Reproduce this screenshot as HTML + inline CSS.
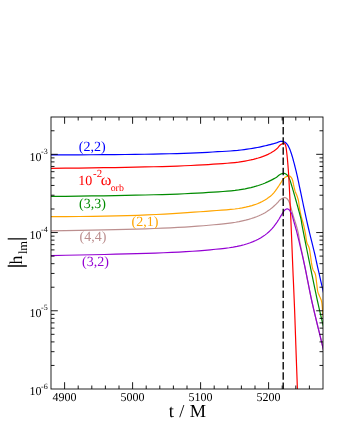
<!DOCTYPE html>
<html><head><meta charset="utf-8"><title>plot</title>
<style>html,body{margin:0;padding:0;background:#fff}body{width:340px;height:440px;position:relative;overflow:hidden;font-family:"Liberation Serif",serif}.tx,.tx text,.tx tspan{font-family:"Liberation Serif",serif;text-rendering:geometricPrecision}</style></head>
<body>
<svg width="340" height="440" viewBox="0 0 340 440" style="position:absolute;left:0;top:0;will-change:transform">
<defs><clipPath id="c"><rect x="51.0" y="117.0" width="272.0" height="272.0"/></clipPath></defs>
<g clip-path="url(#c)" fill="none" stroke-width="1.2" stroke-linejoin="round">
<path d="M51.00,154.78 L65.31,154.79 L78.78,154.78 L91.46,154.75 L103.40,154.69 L114.63,154.62 L125.21,154.52 L135.16,154.41 L144.53,154.27 L153.35,154.12 L161.65,153.95 L169.47,153.76 L176.82,153.56 L183.74,153.33 L190.26,153.09 L196.39,152.84 L202.17,152.57 L207.60,152.28 L212.72,151.98 L217.53,151.72 L222.06,151.49 L226.33,151.24 L230.34,150.98 L234.12,150.69 L237.68,150.39 L241.03,150.01 L244.18,149.61 L247.15,149.20 L249.94,148.78 L252.57,148.35 L255.04,147.92 L257.37,147.48 L259.57,147.05 L261.63,146.62 L263.57,146.19 L265.40,145.77 L267.12,145.35 L268.74,144.95 L270.26,144.55 L271.70,144.17 L273.05,143.81 L274.32,143.47 L274.36,143.46 L274.45,143.43 L274.60,143.40 L274.77,143.35 L274.97,143.30 L275.17,143.24 L275.35,143.19 L275.52,143.15 L275.67,143.10 L275.82,143.06 L275.98,143.01 L276.13,142.96 L276.28,142.92 L276.42,142.88 L276.54,142.84 L276.64,142.81 L276.69,142.79 L276.72,142.78 L276.75,142.77 L276.77,142.77 L276.80,142.76 L276.83,142.75 L276.87,142.73 L276.92,142.72 L277.14,142.63 L277.45,142.49 L277.83,142.31 L278.26,142.12 L278.70,141.93 L279.16,141.76 L279.60,141.61 L280.00,141.50 L280.34,141.43 L280.69,141.38 L281.03,141.35 L281.37,141.32 L281.71,141.32 L282.05,141.33 L282.38,141.36 L282.70,141.40 L283.00,141.46 L283.30,141.53 L283.59,141.62 L283.88,141.73 L284.17,141.85 L284.45,141.98 L284.73,142.13 L285.00,142.30 L285.31,142.51 L285.61,142.74 L285.91,142.99 L286.20,143.25 L286.48,143.54 L286.76,143.84 L287.04,144.16 L287.30,144.50 L287.61,144.93 L287.90,145.39 L288.18,145.87 L288.46,146.38 L288.72,146.91 L288.98,147.46 L289.24,148.03 L289.50,148.60 L289.81,149.32 L290.11,150.07 L290.40,150.85 L290.69,151.65 L290.97,152.47 L291.25,153.30 L291.53,154.15 L291.80,155.00 L292.10,155.96 L292.39,156.94 L292.68,157.94 L292.97,158.96 L293.25,159.99 L293.53,161.04 L293.81,162.11 L294.10,163.20 L294.43,164.47 L294.77,165.76 L295.10,167.08 L295.44,168.42 L295.78,169.79 L296.12,171.19 L296.46,172.63 L296.80,174.10 L297.21,175.90 L297.61,177.72 L298.00,179.57 L298.41,181.47 L298.82,183.45 L299.25,185.52 L299.71,187.70 L300.20,190.00 L300.99,193.74 L301.86,197.86 L302.78,202.25 L303.74,206.82 L304.73,211.48 L305.73,216.13 L306.72,220.67 L307.70,225.00 L308.64,229.01 L309.63,233.16 L310.66,237.34 L311.68,241.46 L312.66,245.38 L313.56,249.02 L314.36,252.27 L315.00,255.00 L315.24,256.07 L315.44,256.98 L315.61,257.77 L315.76,258.51 L315.91,259.25 L316.08,260.03 L316.27,260.93 L316.50,262.00 L317.12,264.78 L317.91,268.27 L318.80,272.22 L319.75,276.39 L320.69,280.51 L321.57,284.36 L322.32,287.67 L322.90,290.20 L323.10,291.06 L323.29,291.91 L323.48,292.71 L323.64,293.45 L323.79,294.08 L323.90,294.57 L323.97,294.89 L324.00,295.00" stroke="#0000ff"/>
<path d="M51.00,216.57 L65.72,216.57 L79.56,216.51 L92.59,216.37 L104.85,216.18 L116.38,215.93 L127.23,215.63 L137.44,215.28 L147.05,214.90 L156.09,214.49 L164.59,214.06 L172.59,213.61 L180.12,213.15 L187.20,212.68 L193.86,212.22 L200.13,211.76 L206.03,211.32 L211.58,210.88 L216.80,210.48 L221.72,210.16 L226.34,209.81 L230.69,209.42 L234.78,209.00 L238.63,208.50 L242.25,207.88 L245.66,207.19 L248.87,206.43 L251.89,205.61 L254.73,204.69 L257.40,203.69 L259.91,202.60 L262.27,201.44 L264.50,200.21 L266.59,198.92 L268.56,197.58 L270.41,196.19 L272.16,194.67 L273.80,192.87 L275.34,190.91 L276.79,188.88 L278.16,186.85 L278.20,186.79 L278.30,186.63 L278.46,186.40 L278.64,186.11 L278.85,185.79 L279.07,185.47 L279.27,185.16 L279.45,184.89 L279.60,184.64 L279.77,184.39 L279.94,184.13 L280.10,183.88 L280.26,183.63 L280.41,183.41 L280.54,183.20 L280.66,183.03 L280.70,182.97 L280.74,182.91 L280.77,182.86 L280.80,182.82 L280.83,182.77 L280.86,182.72 L280.90,182.66 L280.95,182.59 L281.10,182.34 L281.30,182.02 L281.52,181.64 L281.77,181.23 L282.04,180.80 L282.32,180.37 L282.61,179.97 L282.90,179.60 L283.20,179.25 L283.52,178.90 L283.85,178.56 L284.20,178.22 L284.55,177.90 L284.90,177.60 L285.25,177.34 L285.60,177.10 L285.89,176.93 L286.17,176.78 L286.47,176.65 L286.76,176.53 L287.05,176.43 L287.34,176.34 L287.62,176.27 L287.90,176.20 L288.14,176.15 L288.37,176.10 L288.60,176.06 L288.84,176.03 L289.06,176.02 L289.28,176.02 L289.50,176.05 L289.70,176.10 L289.90,176.18 L290.09,176.29 L290.27,176.42 L290.44,176.57 L290.61,176.73 L290.78,176.91 L290.94,177.10 L291.10,177.30 L291.30,177.57 L291.49,177.85 L291.68,178.16 L291.85,178.49 L292.02,178.84 L292.19,179.21 L292.35,179.59 L292.50,180.00 L292.70,180.62 L292.88,181.31 L293.04,182.04 L293.19,182.81 L293.34,183.60 L293.48,184.38 L293.64,185.16 L293.80,185.90 L293.96,186.60 L294.13,187.31 L294.29,188.01 L294.46,188.70 L294.63,189.39 L294.81,190.08 L295.00,190.75 L295.20,191.40 L295.40,191.99 L295.63,192.56 L295.86,193.12 L296.09,193.68 L296.33,194.23 L296.57,194.78 L296.79,195.34 L297.00,195.90 L297.20,196.46 L297.39,197.02 L297.58,197.58 L297.76,198.14 L297.93,198.71 L298.10,199.29 L298.26,199.89 L298.40,200.50 L298.55,201.23 L298.67,201.97 L298.77,202.73 L298.86,203.51 L298.96,204.31 L299.06,205.12 L299.17,205.95 L299.30,206.80 L299.48,207.86 L299.68,208.96 L299.89,210.10 L300.11,211.25 L300.34,212.42 L300.58,213.59 L300.84,214.76 L301.10,215.90 L301.38,217.04 L301.69,218.18 L302.01,219.32 L302.34,220.45 L302.68,221.59 L303.00,222.72 L303.31,223.86 L303.60,225.00 L303.87,226.14 L304.13,227.28 L304.38,228.43 L304.62,229.57 L304.85,230.72 L305.08,231.85 L305.29,232.98 L305.50,234.10 L305.67,235.16 L305.82,236.22 L305.95,237.29 L306.08,238.34 L306.22,239.38 L306.38,240.39 L306.57,241.37 L306.80,242.30 L307.04,243.03 L307.32,243.71 L307.63,244.37 L307.95,245.00 L308.26,245.64 L308.57,246.29 L308.85,246.97 L309.10,247.70 L309.35,248.64 L309.56,249.63 L309.75,250.66 L309.91,251.72 L310.06,252.78 L310.21,253.85 L310.35,254.89 L310.50,255.90 L310.64,256.81 L310.76,257.72 L310.87,258.62 L310.99,259.51 L311.10,260.39 L311.22,261.27 L311.35,262.14 L311.50,263.00 L311.65,263.82 L311.79,264.64 L311.94,265.45 L312.09,266.26 L312.26,267.05 L312.45,267.83 L312.66,268.58 L312.90,269.30 L313.15,269.90 L313.43,270.46 L313.74,270.99 L314.06,271.51 L314.38,272.04 L314.68,272.58 L314.96,273.16 L315.20,273.80 L315.45,274.69 L315.66,275.64 L315.82,276.64 L315.97,277.68 L316.10,278.74 L316.22,279.83 L316.35,280.92 L316.50,282.00 L316.67,283.23 L316.82,284.53 L316.97,285.86 L317.11,287.20 L317.27,288.51 L317.45,289.77 L317.66,290.94 L317.90,292.00 L318.09,292.66 L318.30,293.26 L318.53,293.83 L318.76,294.37 L319.00,294.90 L319.24,295.42 L319.47,295.95 L319.70,296.50 L319.93,297.06 L320.17,297.60 L320.41,298.13 L320.65,298.66 L320.88,299.22 L321.11,299.80 L321.31,300.42 L321.50,301.10 L321.73,302.23 L321.93,303.52 L322.08,304.90 L322.22,306.34 L322.34,307.80 L322.45,309.22 L322.57,310.57 L322.70,311.80 L322.82,312.74 L322.94,313.76 L323.08,314.79 L323.21,315.78 L323.32,316.66 L323.41,317.36 L323.48,317.83 L323.50,318.00" stroke="#ffa500"/>
<path d="M51.00,196.45 L65.40,196.29 L78.95,196.12 L91.70,195.95 L103.71,195.78 L115.00,195.59 L125.64,195.40 L135.64,195.20 L145.06,194.99 L153.93,194.77 L162.27,194.54 L170.13,194.29 L177.52,194.03 L184.47,193.75 L191.02,193.46 L197.18,193.15 L202.98,192.82 L208.44,192.47 L213.58,192.10 L218.42,191.79 L222.97,191.49 L227.25,191.16 L231.28,190.80 L235.08,190.41 L238.65,189.96 L242.01,189.41 L245.17,188.83 L248.15,188.21 L250.95,187.57 L253.59,186.89 L256.07,186.19 L258.41,185.46 L260.61,184.71 L262.68,183.96 L264.63,183.19 L266.46,182.42 L268.19,181.65 L269.81,180.88 L271.34,180.12 L272.78,179.38 L274.13,178.65 L274.17,178.63 L274.27,178.58 L274.42,178.49 L274.61,178.39 L274.82,178.28 L275.03,178.16 L275.23,178.05 L275.41,177.95 L275.56,177.86 L275.73,177.76 L275.89,177.66 L276.06,177.57 L276.22,177.47 L276.36,177.38 L276.49,177.30 L276.60,177.23 L276.65,177.21 L276.69,177.18 L276.72,177.17 L276.75,177.15 L276.78,177.13 L276.81,177.11 L276.85,177.08 L276.89,177.05 L277.08,176.89 L277.32,176.66 L277.60,176.38 L277.91,176.07 L278.25,175.75 L278.60,175.44 L278.95,175.15 L279.30,174.90 L279.68,174.68 L280.08,174.46 L280.51,174.25 L280.94,174.06 L281.37,173.89 L281.78,173.74 L282.16,173.61 L282.50,173.50 L282.69,173.45 L282.86,173.40 L283.02,173.36 L283.17,173.33 L283.32,173.31 L283.47,173.29 L283.63,173.29 L283.80,173.30 L284.01,173.33 L284.23,173.37 L284.46,173.42 L284.68,173.49 L284.91,173.57 L285.14,173.67 L285.37,173.78 L285.60,173.90 L285.89,174.08 L286.19,174.28 L286.49,174.50 L286.79,174.75 L287.09,175.01 L287.37,175.29 L287.65,175.59 L287.90,175.90 L288.17,176.28 L288.42,176.68 L288.65,177.11 L288.87,177.56 L289.08,178.02 L289.29,178.50 L289.49,179.00 L289.70,179.50 L289.94,180.12 L290.18,180.77 L290.40,181.45 L290.63,182.14 L290.84,182.85 L291.06,183.56 L291.28,184.28 L291.50,185.00 L291.74,185.78 L291.98,186.57 L292.22,187.36 L292.46,188.17 L292.70,188.98 L292.93,189.79 L293.17,190.60 L293.40,191.40 L293.63,192.19 L293.86,192.98 L294.08,193.76 L294.31,194.55 L294.53,195.34 L294.75,196.12 L294.98,196.91 L295.20,197.70 L295.42,198.48 L295.64,199.23 L295.85,199.97 L296.06,200.72 L296.28,201.49 L296.50,202.30 L296.74,203.17 L297.00,204.10 L297.46,205.76 L297.99,207.66 L298.56,209.72 L299.15,211.86 L299.73,213.99 L300.27,216.03 L300.73,217.90 L301.10,219.50 L301.26,220.28 L301.38,220.95 L301.47,221.54 L301.55,222.10 L301.63,222.69 L301.72,223.34 L301.84,224.09 L302.00,225.00 L302.61,228.26 L303.43,232.46 L304.40,237.38 L305.49,242.81 L306.64,248.50 L307.81,254.25 L308.94,259.83 L310.00,265.00 L310.97,269.76 L311.95,274.57 L312.94,279.39 L313.92,284.17 L314.90,288.87 L315.86,293.43 L316.79,297.83 L317.70,302.00 L318.41,305.19 L319.14,308.40 L319.87,311.56 L320.59,314.61 L321.27,317.49 L321.89,320.14 L322.44,322.50 L322.90,324.50 L323.09,325.36 L323.29,326.24 L323.47,327.08 L323.64,327.85 L323.79,328.51 L323.90,329.04 L323.97,329.38 L324.00,329.50" stroke="#008b00"/>
<path d="M51.00,230.89 L65.44,230.67 L79.02,230.44 L91.81,230.20 L103.84,229.95 L115.17,229.68 L125.83,229.41 L135.86,229.12 L145.31,228.82 L154.19,228.50 L162.56,228.16 L170.43,227.81 L177.83,227.43 L184.81,227.04 L191.37,226.63 L197.54,226.19 L203.36,225.73 L208.83,225.25 L213.97,224.74 L218.82,224.29 L223.38,223.82 L227.67,223.32 L231.71,222.79 L235.51,222.22 L239.09,221.59 L242.45,220.87 L245.62,220.12 L248.61,219.33 L251.41,218.50 L254.05,217.64 L256.54,216.74 L258.88,215.79 L261.08,214.80 L263.16,213.76 L265.11,212.67 L266.94,211.54 L268.67,210.36 L270.30,209.15 L271.83,207.93 L273.27,206.70 L274.62,205.48 L274.66,205.45 L274.76,205.35 L274.92,205.21 L275.10,205.04 L275.31,204.85 L275.52,204.65 L275.72,204.46 L275.90,204.29 L276.05,204.14 L276.21,203.99 L276.36,203.83 L276.51,203.68 L276.67,203.53 L276.81,203.38 L276.96,203.23 L277.10,203.09 L277.21,202.97 L277.32,202.87 L277.42,202.77 L277.53,202.66 L277.63,202.56 L277.73,202.46 L277.84,202.34 L277.95,202.22 L278.10,202.05 L278.26,201.85 L278.41,201.65 L278.57,201.44 L278.73,201.23 L278.91,201.02 L279.10,200.80 L279.30,200.60 L279.58,200.34 L279.90,200.08 L280.23,199.81 L280.58,199.54 L280.94,199.28 L281.30,199.04 L281.66,198.81 L282.00,198.60 L282.29,198.43 L282.58,198.26 L282.87,198.10 L283.15,197.95 L283.44,197.82 L283.73,197.71 L284.01,197.64 L284.30,197.60 L284.58,197.60 L284.86,197.63 L285.15,197.69 L285.43,197.77 L285.71,197.88 L285.98,198.00 L286.25,198.14 L286.50,198.30 L286.77,198.50 L287.03,198.72 L287.28,198.97 L287.52,199.24 L287.75,199.53 L287.97,199.84 L288.19,200.16 L288.40,200.50 L288.66,200.97 L288.91,201.47 L289.14,202.01 L289.36,202.58 L289.58,203.17 L289.78,203.77 L289.99,204.38 L290.20,205.00 L290.44,205.74 L290.67,206.52 L290.90,207.31 L291.12,208.13 L291.34,208.95 L291.56,209.78 L291.78,210.59 L292.00,211.40 L292.22,212.19 L292.45,212.99 L292.67,213.79 L292.89,214.58 L293.12,215.37 L293.34,216.16 L293.57,216.93 L293.80,217.70 L294.02,218.41 L294.25,219.10 L294.48,219.79 L294.70,220.48 L294.93,221.16 L295.16,221.84 L295.38,222.52 L295.60,223.20 L295.81,223.88 L296.02,224.55 L296.23,225.22 L296.43,225.90 L296.63,226.57 L296.83,227.24 L297.02,227.92 L297.20,228.60 L297.38,229.28 L297.55,229.95 L297.72,230.63 L297.89,231.30 L298.05,231.98 L298.20,232.68 L298.35,233.38 L298.50,234.10 L298.65,234.92 L298.79,235.77 L298.93,236.63 L299.06,237.50 L299.18,238.37 L299.31,239.25 L299.45,240.13 L299.60,241.00 L299.76,241.87 L299.93,242.74 L300.10,243.60 L300.27,244.47 L300.45,245.34 L300.63,246.22 L300.81,247.10 L301.00,248.00 L301.20,248.97 L301.41,249.95 L301.62,250.94 L301.84,251.94 L302.05,252.94 L302.27,253.95 L302.49,254.97 L302.70,256.00 L302.92,257.06 L303.12,258.07 L303.32,259.07 L303.52,260.08 L303.73,261.15 L303.96,262.31 L304.22,263.58 L304.50,265.00 L305.18,268.42 L305.98,272.48 L306.87,277.02 L307.84,281.91 L308.86,287.00 L309.90,292.14 L310.96,297.19 L312.00,302.00 L313.11,306.93 L314.33,312.14 L315.60,317.46 L316.88,322.74 L318.12,327.80 L319.27,332.47 L320.28,336.60 L321.10,340.00 L321.41,341.30 L321.69,342.48 L321.94,343.55 L322.18,344.53 L322.39,345.45 L322.60,346.32 L322.80,347.16 L323.00,348.00 L323.15,348.65 L323.32,349.34 L323.49,350.04 L323.64,350.71 L323.79,351.30 L323.90,351.77 L323.97,352.09 L324.00,352.20" stroke="#bc8f8f"/>
<path d="M51.00,168.31 L65.38,168.18 L78.92,168.03 L91.66,167.88 L103.65,167.71 L114.94,167.54 L125.56,167.36 L135.56,167.17 L144.97,166.97 L153.82,166.76 L162.16,166.53 L170.01,166.29 L177.39,166.04 L184.34,165.77 L190.88,165.49 L197.04,165.19 L202.84,164.87 L208.29,164.54 L213.42,164.18 L218.26,163.88 L222.80,163.59 L227.08,163.26 L231.11,162.91 L234.90,162.54 L238.47,162.12 L241.83,161.62 L244.99,161.08 L247.97,160.53 L250.77,159.95 L253.41,159.34 L255.89,158.70 L258.22,158.04 L260.42,157.36 L262.49,156.65 L264.43,155.91 L266.27,155.15 L267.99,154.36 L269.61,153.55 L271.14,152.71 L272.58,151.85 L273.93,150.96 L275.21,150.04 L275.24,150.01 L275.34,149.94 L275.48,149.82 L275.66,149.68 L275.86,149.53 L276.06,149.37 L276.24,149.22 L276.41,149.08 L276.56,148.96 L276.71,148.82 L276.87,148.68 L277.02,148.55 L277.17,148.41 L277.31,148.29 L277.43,148.18 L277.54,148.09 L277.58,148.05 L277.61,148.02 L277.64,148.00 L277.67,147.97 L277.70,147.95 L277.73,147.92 L277.76,147.88 L277.81,147.84 L277.98,147.64 L278.20,147.35 L278.46,147.01 L278.75,146.63 L279.06,146.23 L279.37,145.85 L279.69,145.50 L280.00,145.20 L280.28,144.98 L280.57,144.77 L280.86,144.58 L281.17,144.40 L281.47,144.24 L281.76,144.08 L282.04,143.94 L282.30,143.80 L282.48,143.70 L282.65,143.59 L282.81,143.49 L282.97,143.39 L283.13,143.31 L283.28,143.24 L283.44,143.21 L283.60,143.20 L283.78,143.23 L283.96,143.29 L284.15,143.38 L284.34,143.49 L284.52,143.62 L284.69,143.77 L284.85,143.93 L285.00,144.10 L285.16,144.35 L285.30,144.62 L285.43,144.93 L285.53,145.26 L285.63,145.62 L285.72,146.00 L285.81,146.39 L285.90,146.80 L286.04,147.46 L286.17,148.18 L286.28,148.94 L286.39,149.75 L286.50,150.59 L286.60,151.45 L286.70,152.33 L286.80,153.20 L286.92,154.25 L287.04,155.33 L287.16,156.44 L287.27,157.57 L287.38,158.73 L287.49,159.90 L287.59,161.09 L287.70,162.30 L287.82,163.66 L287.93,165.01 L288.04,166.37 L288.15,167.75 L288.26,169.20 L288.37,170.72 L288.49,172.35 L288.60,174.10 L288.79,177.27 L288.99,180.81 L289.20,184.64 L289.41,188.67 L289.61,192.80 L289.82,196.96 L290.01,201.06 L290.20,205.00 L290.38,208.77 L290.55,212.53 L290.71,216.28 L290.87,220.03 L291.03,223.77 L291.19,227.51 L291.34,231.25 L291.50,235.00 L291.65,238.71 L291.80,242.36 L291.94,245.98 L292.09,249.62 L292.23,253.31 L292.38,257.07 L292.54,260.96 L292.70,265.00 L292.92,270.21 L293.15,275.67 L293.40,281.33 L293.65,287.10 L293.90,292.92 L294.14,298.72 L294.38,304.44 L294.60,310.00 L294.79,315.12 L294.98,320.18 L295.15,325.19 L295.32,330.18 L295.49,335.14 L295.66,340.09 L295.83,345.04 L296.00,350.00 L296.18,355.13 L296.38,360.58 L296.58,366.16 L296.78,371.66 L296.97,376.89 L297.14,381.66 L297.29,385.76 L297.40,389.00 L297.44,390.08 L297.47,391.15 L297.51,392.16 L297.54,393.08 L297.56,393.86 L297.58,394.47 L297.60,394.86 L297.60,395.00" stroke="#ff0000"/>
<path d="M51.00,255.53 L65.58,255.26 L79.29,255.00 L92.20,254.74 L104.35,254.48 L115.78,254.21 L126.53,253.94 L136.65,253.66 L146.18,253.37 L155.14,253.07 L163.57,252.75 L171.51,252.40 L178.98,252.04 L186.00,251.65 L192.61,251.23 L198.84,250.78 L204.69,250.30 L210.20,249.78 L215.39,249.24 L220.27,248.79 L224.86,248.28 L229.18,247.73 L233.24,247.11 L237.07,246.43 L240.67,245.61 L244.06,244.71 L247.25,243.74 L250.25,242.71 L253.07,241.62 L255.73,240.46 L258.23,239.23 L260.58,237.93 L262.79,236.56 L264.87,235.12 L266.83,233.61 L268.68,232.01 L270.41,230.34 L272.05,228.60 L273.58,226.80 L275.03,224.97 L276.39,223.10 L276.43,223.05 L276.53,222.89 L276.69,222.66 L276.87,222.38 L277.08,222.07 L277.30,221.75 L277.50,221.44 L277.67,221.17 L277.83,220.93 L277.98,220.69 L278.14,220.45 L278.29,220.21 L278.44,219.97 L278.59,219.73 L278.74,219.51 L278.88,219.28 L278.99,219.11 L279.09,218.94 L279.19,218.79 L279.28,218.64 L279.38,218.48 L279.49,218.31 L279.60,218.12 L279.73,217.91 L280.03,217.41 L280.39,216.81 L280.79,216.14 L281.21,215.43 L281.64,214.71 L282.06,214.01 L282.45,213.36 L282.80,212.80 L283.01,212.46 L283.20,212.14 L283.37,211.83 L283.55,211.53 L283.72,211.26 L283.90,210.99 L284.09,210.74 L284.30,210.50 L284.50,210.30 L284.72,210.10 L284.95,209.91 L285.18,209.74 L285.41,209.58 L285.64,209.44 L285.88,209.31 L286.10,209.20 L286.28,209.12 L286.45,209.05 L286.62,208.99 L286.80,208.94 L286.97,208.90 L287.15,208.88 L287.32,208.88 L287.50,208.90 L287.72,208.96 L287.95,209.05 L288.19,209.17 L288.43,209.31 L288.66,209.47 L288.88,209.64 L289.10,209.82 L289.30,210.00 L289.49,210.19 L289.67,210.41 L289.84,210.63 L290.00,210.87 L290.16,211.11 L290.31,211.35 L290.45,211.58 L290.60,211.80 L290.72,211.97 L290.84,212.13 L290.95,212.28 L291.06,212.42 L291.17,212.58 L291.27,212.76 L291.39,212.96 L291.50,213.20 L291.77,213.89 L292.05,214.76 L292.34,215.77 L292.63,216.87 L292.92,218.02 L293.22,219.19 L293.51,220.33 L293.80,221.40 L294.09,222.43 L294.39,223.46 L294.69,224.51 L294.99,225.55 L295.28,226.58 L295.57,227.58 L295.84,228.56 L296.10,229.50 L296.29,230.21 L296.46,230.84 L296.61,231.44 L296.77,232.04 L296.92,232.66 L297.09,233.34 L297.28,234.11 L297.50,235.00 L298.13,237.58 L298.89,240.73 L299.75,244.35 L300.69,248.29 L301.66,252.46 L302.64,256.71 L303.60,260.93 L304.50,265.00 L305.44,269.43 L306.36,273.96 L307.27,278.57 L308.18,283.23 L309.09,287.92 L310.03,292.63 L311.00,297.33 L312.00,302.00 L313.11,306.93 L314.33,312.14 L315.60,317.46 L316.88,322.74 L318.12,327.80 L319.27,332.47 L320.28,336.60 L321.10,340.00 L321.41,341.30 L321.69,342.48 L321.94,343.55 L322.18,344.53 L322.39,345.45 L322.60,346.32 L322.80,347.16 L323.00,348.00 L323.15,348.65 L323.32,349.34 L323.49,350.04 L323.64,350.71 L323.79,351.30 L323.90,351.77 L323.97,352.09 L324.00,352.20" stroke="#9400d3"/>
</g>
<line x1="283.2" y1="117.0" x2="283.2" y2="389.0" stroke="#000" stroke-width="1.35" stroke-dasharray="7.5,2.72" stroke-dashoffset="0.3"/>
<path d="M64.60,389.0 v-6.8 M64.60,117.0 v6.8 M78.20,389.0 v-3.5 M78.20,117.0 v3.5 M91.80,389.0 v-3.5 M91.80,117.0 v3.5 M105.40,389.0 v-3.5 M105.40,117.0 v3.5 M119.00,389.0 v-3.5 M119.00,117.0 v3.5 M132.60,389.0 v-6.8 M132.60,117.0 v6.8 M146.20,389.0 v-3.5 M146.20,117.0 v3.5 M159.80,389.0 v-3.5 M159.80,117.0 v3.5 M173.40,389.0 v-3.5 M173.40,117.0 v3.5 M187.00,389.0 v-3.5 M187.00,117.0 v3.5 M200.60,389.0 v-6.8 M200.60,117.0 v6.8 M214.20,389.0 v-3.5 M214.20,117.0 v3.5 M227.80,389.0 v-3.5 M227.80,117.0 v3.5 M241.40,389.0 v-3.5 M241.40,117.0 v3.5 M255.00,389.0 v-3.5 M255.00,117.0 v3.5 M268.60,389.0 v-6.8 M268.60,117.0 v6.8 M282.20,389.0 v-3.5 M282.20,117.0 v3.5 M295.80,389.0 v-3.5 M295.80,117.0 v3.5 M309.40,389.0 v-3.5 M309.40,117.0 v3.5 M51.0,365.45 h3.5 M323.0,365.45 h-3.5 M51.0,351.68 h3.5 M323.0,351.68 h-3.5 M51.0,341.90 h3.5 M323.0,341.90 h-3.5 M51.0,334.32 h3.5 M323.0,334.32 h-3.5 M51.0,328.13 h3.5 M323.0,328.13 h-3.5 M51.0,322.89 h3.5 M323.0,322.89 h-3.5 M51.0,318.36 h3.5 M323.0,318.36 h-3.5 M51.0,314.35 h3.5 M323.0,314.35 h-3.5 M51.0,310.77 h6.8 M323.0,310.77 h-6.8 M51.0,287.23 h3.5 M323.0,287.23 h-3.5 M51.0,273.45 h3.5 M323.0,273.45 h-3.5 M51.0,263.68 h3.5 M323.0,263.68 h-3.5 M51.0,256.10 h3.5 M323.0,256.10 h-3.5 M51.0,249.90 h3.5 M323.0,249.90 h-3.5 M51.0,244.67 h3.5 M323.0,244.67 h-3.5 M51.0,240.13 h3.5 M323.0,240.13 h-3.5 M51.0,236.13 h3.5 M323.0,236.13 h-3.5 M51.0,232.55 h6.8 M323.0,232.55 h-6.8 M51.0,209.00 h3.5 M323.0,209.00 h-3.5 M51.0,195.23 h3.5 M323.0,195.23 h-3.5 M51.0,185.45 h3.5 M323.0,185.45 h-3.5 M51.0,177.87 h3.5 M323.0,177.87 h-3.5 M51.0,171.68 h3.5 M323.0,171.68 h-3.5 M51.0,166.44 h3.5 M323.0,166.44 h-3.5 M51.0,161.90 h3.5 M323.0,161.90 h-3.5 M51.0,157.90 h3.5 M323.0,157.90 h-3.5 M51.0,154.32 h6.8 M323.0,154.32 h-6.8 M51.0,130.77 h3.5 M323.0,130.77 h-3.5" stroke="#000" stroke-width="0.9" fill="none"/>
<rect x="51.0" y="117.0" width="272.0" height="272.0" fill="none" stroke="#000" stroke-width="0.86"/>
<g class="tx" fill="#000">
<text x="64.6" y="401.3" font-size="12" text-anchor="middle">4900</text>
<text x="132.6" y="401.3" font-size="12" text-anchor="middle">5000</text>
<text x="200.6" y="401.3" font-size="12" text-anchor="middle">5100</text>
<text x="268.6" y="401.3" font-size="12" text-anchor="middle">5200</text>
<text x="29.5" y="160.5" font-size="12">10<tspan font-size="8" dx="-0.4" dy="-6.55">-3</tspan></text>
<text x="29.5" y="238.7" font-size="12">10<tspan font-size="8" dx="-0.4" dy="-6.55">-4</tspan></text>
<text x="29.5" y="317.0" font-size="12">10<tspan font-size="8" dx="-0.4" dy="-6.55">-5</tspan></text>
<text x="29.5" y="395.2" font-size="12">10<tspan font-size="8" dx="-0.4" dy="-6.55">-6</tspan></text>
<text x="168.8" y="416.8" font-size="18.3" word-spacing="0.8">t / M</text>
<g transform="translate(21.5,266.0) rotate(-90)"><path d="M0,-13.8 V5.4 M27.1,-13.8 V5.4" stroke="#000" stroke-width="1.4" fill="none"/><text x="1.5" y="0" font-size="18.1">h</text><text x="11.9" y="5.0" font-size="12.5">lm</text></g>
<text x="78.7" y="150.6" font-size="14.1" fill="#0000ff">(2,2)</text>
<text x="78.3" y="184.8" font-size="14" fill="#ff0000">10<tspan font-size="10.8" dx="0.8" dy="-7.9">-2</tspan><tspan dx="-1.3" dy="7.9" font-size="16.2">ω</tspan><tspan font-size="9.9" dx="-0.8" dy="6.4">orb</tspan></text>
<text x="79" y="208.2" font-size="14" fill="#008b00">(3,3)</text>
<text x="131.5" y="226.1" font-size="14" fill="#ffa500">(2,1)</text>
<text x="79.6" y="241.0" font-size="14" fill="#bc8f8f">(4,4)</text>
<text x="82" y="266.4" font-size="14" fill="#9400d3">(3,2)</text>
</g>
</svg>
</body></html>
